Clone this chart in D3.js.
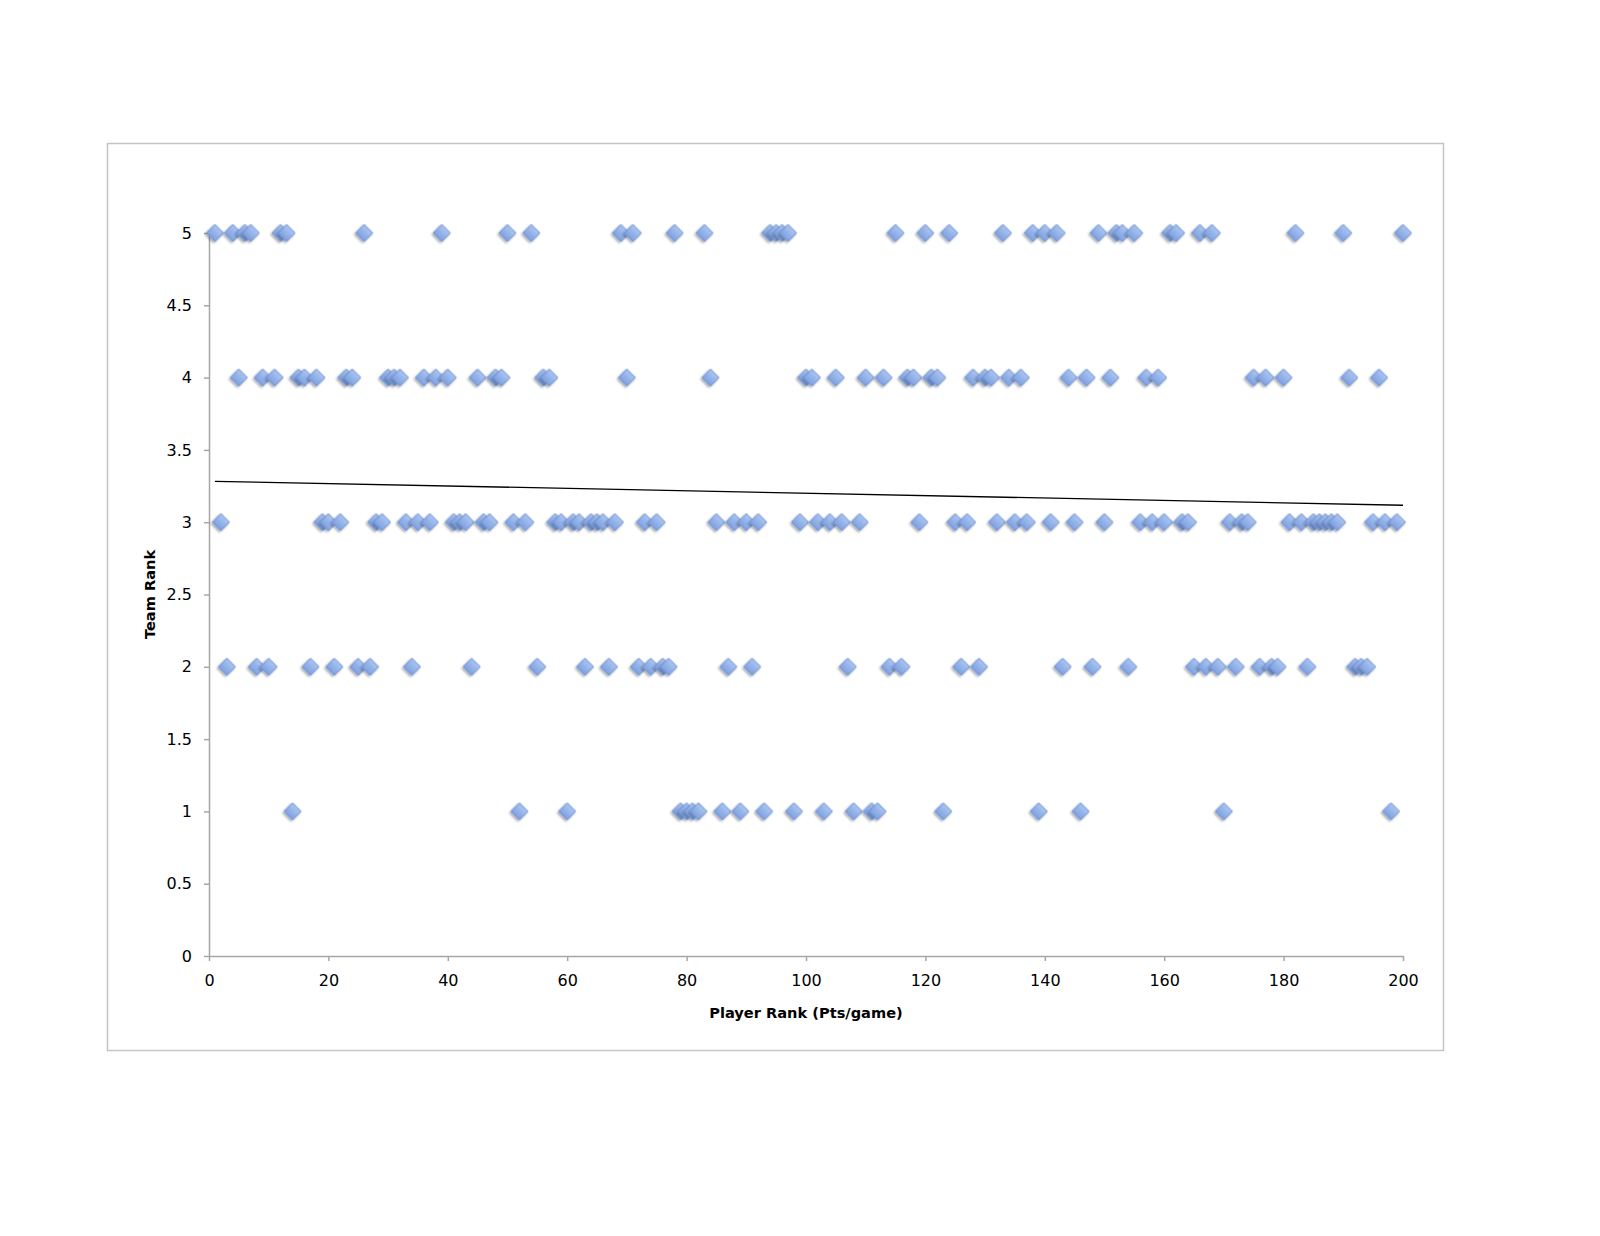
<!DOCTYPE html>
<html>
<head>
<meta charset="utf-8">
<script src="https://cdn.jsdelivr.net/npm/d3@7"></script>
<style>
    html, body { margin: 0; padding: 0; background: #ffffff; overflow: hidden; }
    svg { display: block; }
    .axis text { font-family: "DejaVu Sans", sans-serif; font-size: 16px; fill: #000; }
    .axis path, .axis line { stroke: #a6a6a6; stroke-width: 1.5px; }
    .axis-title { font-family: "DejaVu Sans", sans-serif; font-size: 14.6px; font-weight: bold; fill: #000; }
</style>
</head>
<body>
<div id="chart_panel"></div>
<script>

// player rank (pts/game) of every player, grouped by the rank of his team
let teamRanks = [5, 4, 3, 2, 1];
let rank5Players = [1, 4, 6, 7, 12, 13, 26, 39, 50, 54, 69, 71, 78, 83, 94, 95, 96, 97, 115, 120, 124, 133, 138, 140, 142, 149, 152, 153, 155, 161, 162, 166, 168, 182, 190, 200];
let rank4Players = [5, 9, 11, 15, 16, 18, 23, 24, 30, 31, 32, 36, 38, 40, 45, 48, 49, 56, 57, 70, 84, 100, 101, 105, 110, 113, 117, 118, 121, 122, 128, 130, 131, 134, 136, 144, 147, 151, 157, 159, 175, 177, 180, 191, 196];
let rank3Players = [2, 19, 20, 22, 28, 29, 33, 35, 37, 41, 42, 43, 46, 47, 51, 53, 58, 59, 61, 62, 64, 65, 66, 68, 73, 75, 85, 88, 90, 92, 99, 102, 104, 106, 109, 119, 125, 127, 132, 135, 137, 141, 145, 150, 156, 158, 160, 163, 164, 171, 173, 174, 181, 183, 185, 186, 187, 188, 189, 195, 197, 199];
let rank2Players = [3, 8, 10, 17, 21, 25, 27, 34, 44, 55, 63, 67, 72, 74, 76, 77, 87, 91, 107, 114, 116, 126, 129, 143, 148, 154, 165, 167, 169, 172, 176, 178, 179, 184, 192, 193, 194];
let rank1Players = [14, 52, 60, 79, 80, 81, 82, 86, 89, 93, 98, 103, 108, 111, 112, 123, 139, 146, 170, 198];

// axis tick labels
let xTicks = [0, 20, 40, 60, 80, 100, 120, 140, 160, 180, 200];
let yTicks = [0, 0.5, 1, 1.5, 2, 2.5, 3, 3.5, 4, 4.5, 5];

let xTitle = 'Player Rank (Pts/game)';
let yTitle = 'Team Rank';

let width = 1600, height = 1236;

//build point list
let groups = [rank5Players, rank4Players, rank3Players, rank2Players, rank1Players];
let points = [];
for (let i = 0; i < teamRanks.length; i++) {
    for (let j = 0; j < groups[i].length; j++) {
        points.push({x: groups[i][j], y: teamRanks[i]});
    }
}

//add svg
let svg = d3.select('#chart_panel')
    .append('svg')
    .attr('width', width)
    .attr('height', height);

svg.append('rect')
    .attr('width', width)
    .attr('height', height)
    .style('fill', '#ffffff');

//chart frame
svg.append('rect')
    .attr('x', 107.5)
    .attr('y', 143.5)
    .attr('width', 1336)
    .attr('height', 907)
    .style('fill', 'none')
    .style('stroke', '#c4c4c4')
    .style('stroke-width', 1.5);

// scales
let x = d3.scaleLinear().domain([0, 200]).range([209, 1403]);
let y = d3.scaleLinear().domain([0, 5]).range([956, 233]);

// marker style: gradient + soft shadow
let defs = svg.append('defs');
let grad = defs.append('linearGradient')
    .attr('id', 'markerFill')
    .attr('x1', 0).attr('y1', 0).attr('x2', 0).attr('y2', 1);
grad.append('stop').attr('offset', '0%').attr('stop-color', '#abc5f1');
grad.append('stop').attr('offset', '100%').attr('stop-color', '#7ea1e0');

let shadow = defs.append('filter')
    .attr('id', 'markerShadow')
    .attr('x', '-50%').attr('y', '-50%')
    .attr('width', '200%').attr('height', '200%');
shadow.append('feDropShadow')
    .attr('dx', 0)
    .attr('dy', 2)
    .attr('stdDeviation', 1.3)
    .attr('flood-color', '#000')
    .attr('flood-opacity', 0.35);

//axes
svg.append('g')
    .attr('class', 'axis axis--y')
    .attr('transform', 'translate(209,0)')
    .call(d3.axisLeft(y).tickValues(yTicks).tickSize(5).tickSizeOuter(0).tickPadding(12).tickFormat(d3.format('')));

svg.append('g')
    .attr('class', 'axis axis--x')
    .attr('transform', 'translate(0,956)')
    .call(d3.axisBottom(x).tickValues(xTicks).tickSize(5).tickSizeOuter(0).tickPadding(14));

//axis titles
svg.append('text')
    .attr('class', 'axis-title')
    .attr('x', x(100))
    .attr('y', 1018)
    .attr('text-anchor', 'middle')
    .text(xTitle);

svg.append('text')
    .attr('class', 'axis-title')
    .attr('transform', 'translate(155,' + y(2.5) + ') rotate(-90)')
    .attr('text-anchor', 'middle')
    .text(yTitle);

//markers
let diamond = d3.symbol().type(d3.symbolSquare).size(146);
svg.append('g')
    .selectAll('.player')
    .data(points)
    .enter()
    .append('path')
    .attr('class', 'player')
    .attr('d', diamond)
    .attr('transform', (d) => {
        return 'translate(' + x(d.x) + ',' + y(d.y) + ') rotate(45)';
    })
    .style('fill', 'url(#markerFill)')
    .style('stroke', '#6d8fd2')
    .style('stroke-width', 0.8)
    .style('filter', 'url(#markerShadow)');

//linear trend line (least squares fit of the points)
let mx = d3.mean(points, d => d.x);
let my = d3.mean(points, d => d.y);
let sxy = d3.sum(points, d => (d.x - mx) * (d.y - my));
let sxx = d3.sum(points, d => (d.x - mx) * (d.x - mx));
let slope = sxy / sxx;
let intercept = my - slope * mx;
let xExtent = d3.extent(points, d => d.x);

svg.append('line')
    .attr('x1', x(xExtent[0]))
    .attr('y1', y(intercept + slope * xExtent[0]))
    .attr('x2', x(xExtent[1]))
    .attr('y2', y(intercept + slope * xExtent[1]))
    .style('stroke', '#000')
    .style('stroke-width', 1.3);

</script>
</body>
</html>
